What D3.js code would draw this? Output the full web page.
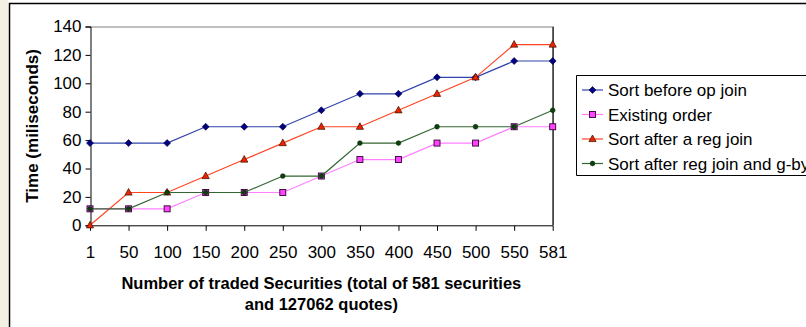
<!DOCTYPE html>
<html><head><meta charset="utf-8">
<script src="https://cdn.jsdelivr.net/npm/d3@7"></script>
<style>body{margin:0;background:#fff}svg{display:block}text{font-family:Arial,"Liberation Sans",sans-serif}</style>
</head><body>
<svg id="c" width="806" height="327"></svg>
<script>
const categories = ["1","50","100","150","200","250","300","350","400","450","500","550","581"];
const sortBeforeOpJoin = [57.9,57.9,57.9,69.4,69.4,69.4,81.0,92.6,92.6,104.2,104.2,115.7,115.7];
const existingOrder    = [11.6,11.6,11.6,23.1,23.1,23.1,34.7,46.3,46.3,57.9,57.9,69.4,69.4];
const sortAfterRegJoin = [0,23.1,23.1,34.7,46.3,57.9,69.4,69.4,81.0,92.6,104.2,127.3,127.3];
const sortAfterRegJoinGby = [11.6,11.6,23.1,23.1,23.1,34.7,34.7,57.9,57.9,69.4,69.4,69.4,81.0];
const yTicks = [0,20,40,60,80,100,120,140];
const seriesNames = ["Sort before op join","Existing order","Sort after a reg join","Sort after reg join and g-by"];

const series = [
  {name:seriesNames[0], values:sortBeforeOpJoin, line:"#3344aa", fill:"#000080", stroke:"#000040", marker:"diamond"},
  {name:seriesNames[1], values:existingOrder, line:"#ff80ff", fill:"#ff44ff", stroke:"#330033", marker:"square"},
  {name:seriesNames[2], values:sortAfterRegJoin, line:"#ff4422", fill:"#ee2200", stroke:"#331100", marker:"triangle"},
  {name:seriesNames[3], values:sortAfterRegJoinGby, line:"#336633", fill:"#0d400d", stroke:"#002200", marker:"circle"}
];

const svg = d3.select("#c");
const L=90, R=552.7, T=26.5, B=225.3;
const FS = 17;
const x = d3.scalePoint().domain(categories).range([L,R]).padding(0);
const y = d3.scaleLinear().domain([0,140]).range([B,T]);

svg.append("rect").attr("x",0).attr("y",0).attr("width",8).attr("height",327).attr("fill","#f4f1e4");
svg.append("path").attr("d","M9.5,327 V3.5 H806").attr("fill","none").attr("stroke","#000").attr("stroke-width",1.5);

svg.append("path").attr("d",`M${L},${T+0.5} H${R} V${B}`).attr("fill","none").attr("stroke","#808080").attr("stroke-width",1);
svg.append("line").attr("x1",R+0.5).attr("x2",R+0.5).attr("y1",T).attr("y2",B).attr("stroke","#000");

const ya = d3.axisLeft(y).tickValues(yTicks).tickSize(5).tickPadding(4);
const gy = svg.append("g").attr("transform",`translate(${L+0.5},0)`).call(ya);
gy.attr("font-size",FS);
gy.select(".domain").attr("stroke","#000");
gy.selectAll("text").attr("font-size",FS).attr("fill","#000");

const xa = d3.axisBottom(x).tickSize(5).tickPadding(15);
const gx = svg.append("g").attr("transform",`translate(0,${B+0.5})`).call(xa);
gx.attr("font-size",FS);
gx.select(".domain").attr("stroke","#000").attr("d",`M${L},0H${R+0.5}`);
gx.selectAll("text").attr("font-size",FS).attr("fill","#000");

svg.append("text").attr("transform",`translate(38,${(T+B)/2}) rotate(-90)`).attr("text-anchor","middle")
  .attr("font-size",17).attr("font-weight","bold").text("Time (miliseconds)");
svg.append("text").attr("x",(L+R)/2).attr("y",288.5).attr("text-anchor","middle").attr("font-size",16.5).attr("font-weight","bold")
  .text("Number of traded Securities (total of 581 securities");
svg.append("text").attr("x",(L+R)/2).attr("y",310).attr("text-anchor","middle").attr("font-size",16.5).attr("font-weight","bold")
  .text("and 127062 quotes)");

function marker(g, type, cx, cy, s){
  if(type==="diamond"){
    g.append("path").attr("d",`M${cx},${cy-3.5}L${cx+3.5},${cy}L${cx},${cy+3.5}L${cx-3.5},${cy}Z`).attr("fill",s.fill).attr("stroke",s.stroke).attr("stroke-width",0.6);
  } else if(type==="square"){
    g.append("rect").attr("x",cx-3).attr("y",cy-3).attr("width",6).attr("height",6).attr("fill",s.fill).attr("stroke",s.stroke).attr("stroke-width",0.9);
  } else if(type==="triangle"){
    g.append("path").attr("d",`M${cx},${cy-4}L${cx+3.6},${cy+2.6}L${cx-3.6},${cy+2.6}Z`).attr("fill",s.fill).attr("stroke",s.stroke).attr("stroke-width",0.7);
  } else {
    g.append("circle").attr("cx",cx).attr("cy",cy).attr("r",2.4).attr("fill",s.fill).attr("stroke",s.stroke).attr("stroke-width",0.5);
  }
}

const line = d3.line().x((d,i)=>x(categories[i])).y(d=>y(d));
series.forEach(s=>{
  const g = svg.append("g");
  g.append("path").attr("d",line(s.values)).attr("fill","none").attr("stroke",s.line).attr("stroke-width",1.2);
  s.values.forEach((v,i)=>marker(g,s.marker,x(categories[i]),y(v),s));
});

const lg = svg.append("g");
lg.append("path").attr("d","M576.5,175.5 V75.5 H806").attr("fill","none").attr("stroke","#000").attr("stroke-width",1);
lg.append("line").attr("x1",576.5).attr("x2",806).attr("y1",175.5).attr("y2",175.5).attr("stroke","#000");
const ly = [90,114.5,139,163.5];
series.forEach((s,i)=>{
  lg.append("line").attr("x1",582).attr("x2",603).attr("y1",ly[i]).attr("y2",ly[i]).attr("stroke",s.line).attr("stroke-width",1.2);
  marker(lg,s.marker,592.5,ly[i],s);
  lg.append("text").attr("x",608).attr("y",ly[i]+6).attr("font-size",17).text(s.name);
});
</script>
</body></html>
